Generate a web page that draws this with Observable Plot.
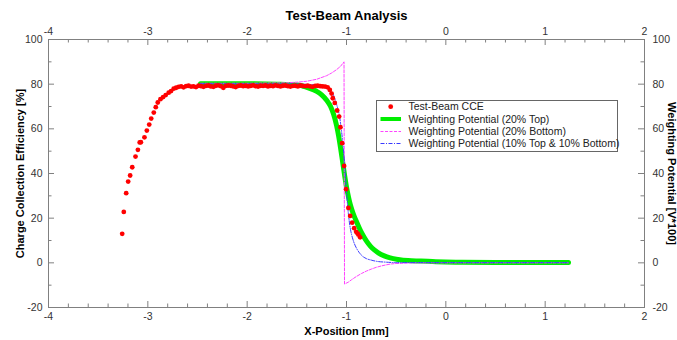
<!DOCTYPE html>
<html><head><meta charset="utf-8">
<script src="https://cdn.jsdelivr.net/npm/d3@7"></script>
<script src="https://cdn.jsdelivr.net/npm/@observablehq/plot@0.6"></script>
<style>body{margin:0;background:#fff} #chart{position:relative;width:677px;height:340px}</style>
</head><body><div id="chart"></div>
<script>
// ---- tick labels ----
const xMajor = [-4, -3, -2, -1, 0, 1, 2];
const xMinor = [-3.8,-3.6,-3.4,-3.2,-2.8,-2.6,-2.4,-2.2,-1.8,-1.6,-1.4,-1.2,-0.8,-0.6,-0.4,-0.2,0.2,0.4,0.6,0.8,1.2,1.4,1.6,1.8];
const yMajor = [-20, 0, 20, 40, 60, 80, 100];
const yMinor = [-10, 10, 30, 50, 70, 90];

// ---- Test-Beam CCE (red dots) ----
const cceX = [-3.258,-3.242,-3.218,-3.198,-3.178,-3.157,-3.124,-3.100,-3.082,-3.070,-3.034,-3.010,-2.986,-2.966,-2.940,-2.920,-2.900,-2.873,-2.846,-2.820,-2.790,-2.766,-2.740,
 -2.715,-2.690,-2.665,-2.640,-2.615,-2.590,-2.565,-2.540,-2.515,-2.490,-2.465,-2.440,-2.415,-2.390,-2.365,-2.340,-2.315,-2.290,-2.265,-2.240,-2.215,-2.190,-2.165,-2.140,-2.115,-2.090,-2.065,-2.040,-2.015,-1.990,-1.965,-1.940,-1.915,-1.890,-1.865,-1.840,-1.815,-1.790,-1.765,-1.740,-1.715,-1.690,-1.665,-1.640,-1.615,-1.590,-1.565,-1.540,-1.515,-1.490,-1.465,-1.440,-1.415,-1.390,-1.365,-1.340,-1.315,-1.290,-1.265,-1.240,-1.215,-1.190,
 -1.168,-1.150,-1.138,-1.118,-1.094,-1.074,-1.061,-1.044,-1.024,-1.004,-0.981,-0.963,-0.943,-0.923,-0.903,-0.890,-0.880,-0.863];
const cceY = [13.0,22.8,31.2,36.4,39.1,42.8,47.6,50.6,53.9,54.0,56.2,59.2,61.9,64.6,67.3,69.7,71.8,73.3,74.2,75.1,76.2,76.9,78.0,
 78.4,78.8,79.0,78.6,79.1,79.3,78.9,79.0,78.7,79.3,79.1,78.8,79.2,79.4,79.0,78.8,79.3,79.5,79.1,78.4,79.2,79.4,79.3,79.0,78.7,79.2,79.4,79.1,79.3,79.0,79.2,79.5,79.1,78.9,79.3,79.2,79.4,79.0,79.3,79.1,79.5,79.2,79.0,79.3,79.4,79.1,78.9,79.2,79.3,79.0,79.4,79.2,79.1,79.3,79.0,78.8,79.2,79.3,79.1,79.0,78.9,78.6,
 77.4,75.8,73.7,71.6,68.2,65.5,60.7,53.6,43.4,33.0,24.6,21.0,18.0,15.5,13.9,13.2,12.6,11.4];

// ---- Weighting Potential (20% Top) ----
const wp20TopX = [-2.47,-2.0,-1.7,-1.5,-1.45,-1.40,-1.35,-1.30,-1.25,-1.20,-1.16,-1.13,-1.10,-1.08,-1.06,-1.04,-1.02,-1.00,-0.98,-0.96,-0.94,-0.92,-0.90,-0.87,-0.84,-0.80,-0.76,-0.72,-0.68,-0.62,-0.56,-0.48,-0.38,-0.25,-0.10,0.10,0.50,1.235];
const wp20TopY = [80.2,80.2,80.0,79.6,79.3,78.6,77.8,76.8,75.2,72.8,70.0,66.5,61.5,57.0,51.5,45.5,39.5,34.0,29.5,25.8,23.0,20.6,18.5,15.5,12.8,9.8,7.5,5.8,4.5,3.1,2.2,1.5,1.0,0.8,0.5,0.3,0.2,0.2];

// ---- Weighting Potential (20% Bottom) ----
const wp20BotX = [-2.47,-2.0,-1.6,-1.5,-1.4,-1.3,-1.2,-1.15,-1.1,-1.06,-1.025,-1.02,-0.98,-0.95,-0.90,-0.85,-0.80,-0.75,-0.70,-0.65,-0.60,-0.55,-0.50,-0.40,-0.30,1.235];
const wp20BotY = [80.4,80.4,80.6,80.9,81.3,82.2,83.8,85.0,86.5,88.0,90.0,-9.5,-8.6,-7.6,-6.1,-4.8,-3.7,-2.8,-2.0,-1.4,-0.9,-0.5,-0.3,-0.1,0.0,0.0];

// ---- Weighting Potential (10% Top & 10% Bottom) ----
const wp10X = [-2.47,-1.60,-1.40,-1.30,-1.22,-1.17,-1.13,-1.10,-1.07,-1.05,-1.03,-1.01,-0.995,-0.98,-0.96,-0.94,-0.92,-0.90,-0.87,-0.84,-0.80,-0.75,-0.70,-0.60,-0.50,1.235];
const wp10Y = [80.2,80.1,79.9,79.6,79.0,77.8,75.0,71.0,65.5,59.0,50.0,38.5,29.0,21.5,15.0,11.2,8.5,6.6,4.5,3.0,1.9,1.2,0.7,0.3,0.1,0.1];

const series = ["Test-Beam CCE","Weighting Potential (20% Top)","Weighting Potential (20% Bottom)","Weighting Potential (10% Top & 10% Bottom)"];

const cce = cceX.map((x,i)=>({x, y:cceY[i]}));
const top20 = wp20TopX.map((x,i)=>({x, y:wp20TopY[i]}));
const bot20 = wp20BotX.map((x,i)=>({x, y:wp20BotY[i]}));
const tb10 = wp10X.map((x,i)=>({x, y:wp10Y[i]}));

const W = 677, H = 340, ML = 48, MR = 33, MT = 39, MB = 33;
const FH = H - MT - MB, FW = W - ML - MR;
const axisColor = "#808080", labelColor = "#333";
const GREEN = "#00ee00", MAGENTA = "#ff44ff", BLUE = "#3a3aff", RED = "#ff0000";
const FONT = "'Liberation Sans', Arial, sans-serif";

const chart = Plot.plot({
  width: W, height: H,
  marginLeft: ML, marginRight: MR, marginTop: MT, marginBottom: MB,
  style: {fontFamily: FONT, fontSize: "10.5px", color: labelColor, background: "#fff"},
  x: {domain: [-4, 2]},
  y: {domain: [-20, 100]},
  marks: [
    // ticks (inward)
    Plot.ruleX(xMajor, {x: d=>d, insetTop: FH-6, stroke: axisColor}),
    Plot.ruleX(xMinor, {x: d=>d, insetTop: FH-3.5, stroke: axisColor}),
    Plot.ruleX(xMajor, {x: d=>d, insetBottom: FH-6, stroke: axisColor}),
    Plot.ruleX(xMinor, {x: d=>d, insetBottom: FH-3.5, stroke: axisColor}),
    Plot.ruleY(yMajor, {y: d=>d, insetRight: FW-6, stroke: axisColor}),
    Plot.ruleY(yMinor, {y: d=>d, insetRight: FW-3.5, stroke: axisColor}),
    Plot.ruleY(yMajor, {y: d=>d, insetLeft: FW-6, stroke: axisColor}),
    Plot.ruleY(yMinor, {y: d=>d, insetLeft: FW-3.5, stroke: axisColor}),
    Plot.axisX({ticks: xMajor, anchor: "bottom", tickSize: 0, tickPadding: 5, label: null, tickFormat: d=>String(d)}),
    Plot.axisX({ticks: xMajor, anchor: "top", tickSize: 0, tickPadding: 5, label: null, tickFormat: d=>String(d)}),
    Plot.axisY({ticks: yMajor, anchor: "left", tickSize: 0, tickPadding: 6, label: null, tickFormat: d=>String(d)}),
    Plot.axisY({ticks: yMajor, anchor: "right", tickSize: 0, tickPadding: 8, label: null, tickFormat: d=>String(d)}),
    Plot.frame({stroke: axisColor}),
    // data
    Plot.line(top20, {x: "x", y: "y", stroke: GREEN, strokeWidth: 5, curve: "monotone-x"}),
    Plot.line(bot20, {x: "x", y: "y", stroke: MAGENTA, strokeWidth: 1, strokeDasharray: "3,1.5"}),
    Plot.line(tb10, {x: "x", y: "y", stroke: BLUE, strokeWidth: 1, strokeDasharray: "4,1.5,1,1.5", curve: "monotone-x"}),
    Plot.dot(cce, {x: "x", y: "y", fill: RED, r: 2.4}),
    // titles
    Plot.text(["Test-Beam Analysis"], {frameAnchor: "top", dy: -20, fontWeight: "bold", fontSize: 13, fill: "#000", lineAnchor: "bottom", textAnchor: "middle"}),
    Plot.text(["X-Position [mm]"], {frameAnchor: "bottom", dy: 27, fontWeight: "bold", fontSize: 11, fill: "#000", lineAnchor: "bottom", textAnchor: "middle"}),
    Plot.text(["Charge Collection Efficiency [%]"], {frameAnchor: "left", dx: -28, rotate: -90, fontWeight: "bold", fontSize: 11, fill: "#000", textAnchor: "middle", lineAnchor: "middle"}),
    Plot.text(["Weighting Potential [V*100]"], {frameAnchor: "right", dx: 27, rotate: 90, fontWeight: "bold", fontSize: 11, fill: "#000", textAnchor: "middle", lineAnchor: "middle"})
  ]
});
document.getElementById("chart").appendChild(chart);

// ---- legend inside the plot ----
const svg = d3.select(chart);
const lg = svg.append("g").attr("font-family", FONT).attr("font-size", "10.5px").attr("text-anchor", "start");
lg.append("rect").attr("x", 376.5).attr("y", 100.5).attr("width", 241).attr("height", 51)
  .attr("fill", "#fff").attr("stroke", "#666");
const rowY = [106.7, 119.0, 131.5, 143.5];
series.forEach((name, i) => {
  const y = rowY[i];
  if (i === 0) lg.append("circle").attr("cx", 390.7).attr("cy", y).attr("r", 2.4).attr("fill", RED);
  else {
    const st = [null, [GREEN, 4, null, y], [MAGENTA, 1, "3,1.5", 131.5], [BLUE, 1, "4,1.5,1,1.5", 143.5]][i];
    const line = lg.append("line").attr("x1", 380.5).attr("x2", 401).attr("y1", st[3]).attr("y2", st[3])
      .attr("stroke", st[0]).attr("stroke-width", st[1]);
    if (st[2]) line.attr("stroke-dasharray", st[2]);
  }
  lg.append("text").attr("x", 408.5).attr("y", y).attr("dy", "0.35em").attr("fill", "#222").attr("text-anchor", "start").text(name);
});
</script>
</body></html>
